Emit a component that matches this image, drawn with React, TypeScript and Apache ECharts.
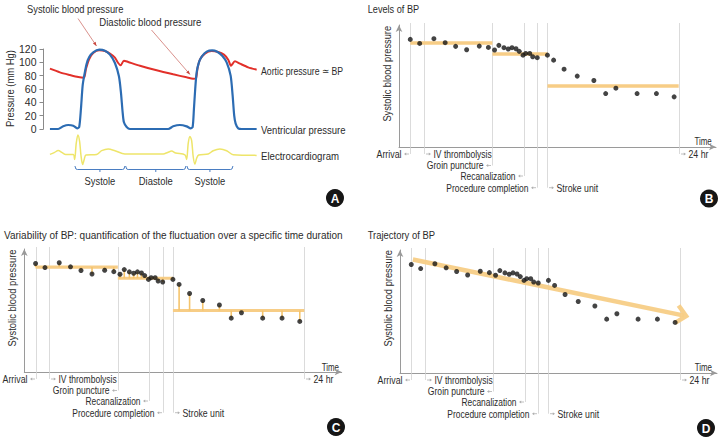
import React, { useEffect, useRef } from "react";
import * as echarts from "echarts";

const FONT = '"Liberation Sans", Arial, sans-serif';
const TXT = "#2b2b2b";

// ---------- Panel A: cardiac cycle (time in ms) ----------
const pressureTicks = [0, 20, 40, 60, 80, 100, 120];
const aorticT = [0, 70, 140, 198, 238, 252, 275, 303, 345, 385, 420, 455, 478, 495, 518, 548, 630, 747, 863, 957, 1003, 1022, 1033, 1050, 1085, 1132, 1178, 1218, 1248, 1267, 1295, 1330, 1388, 1447];
const aorticP = [90.5, 85, 81, 78, 77, 90, 105, 114, 118, 117, 113, 107, 99, 95.5, 102.5, 100.5, 95, 88, 82, 77.5, 75.5, 76, 91, 104, 113, 117, 115.5, 111.5, 104, 95, 101.5, 98, 92.5, 89];
const ventT = [0, 58, 93, 128, 163, 191, 205, 217, 229, 240, 257, 275, 303, 345, 385, 420, 455, 483, 497, 509, 518, 537, 560, 828, 863, 910, 957, 985, 999, 1008, 1017, 1027, 1043, 1064, 1097, 1136, 1171, 1206, 1237, 1265, 1279, 1290, 1300, 1318, 1342, 1447];
const ventP = [0, 0, 4, 6, 5, 1, 3, 30, 65, 80, 98, 108, 115, 119, 117.5, 111.5, 99, 79, 55, 25, 10, 3, 0, 0, 4, 6, 4, 1, 3, 30, 60, 85, 100, 109, 116, 118, 116, 110, 100, 80, 50, 20, 8, 1, 0, 0];
const ecgT = [0, 30, 58, 86, 110, 163, 173, 184, 196, 208, 217, 229, 240, 252, 327, 362, 408, 455, 525, 793, 824, 852, 880, 945, 957, 968, 980, 992, 1003, 1015, 1027, 1041, 1108, 1143, 1190, 1237, 1283, 1447];
const ecgV = [0, 0.09, 0.2, 0.09, 0, 0, -0.26, 0.57, 1.0, 0.66, -0.03, -0.52, -0.26, -0.03, 0, 0.19, 0.28, 0.19, 0.02, 0.02, 0.1, 0.17, 0.07, -0.02, -0.26, 0.57, 0.92, 0.71, -0.12, -0.5, -0.2, -0.03, 0.02, 0.19, 0.28, 0.19, -0.02, -0.05];
const phaseNames = ["Systole", "Diastole", "Systole"];
const phaseStart = [175, 530, 959];
const phaseEnd = [525, 952, 1281];
const seriesNamesA = ["Aortic pressure \u2243 BP", "Ventricular pressure", "Electrocardiogram"];
const pressureAxisName = "Pressure (mm Hg)";
const annotationNames = ["Systolic blood pressure", "Diastolic blood pressure"];

// ---------- Panels B-D: BP over 24 h (time: arrival = 0, 24 hr = 100) ----------
const bpTime = [0, 3.5, 8.8, 13.0, 16.9, 21.0, 25.7, 29.1, 31.4, 33.0, 34.9, 36.5, 37.9, 39.4, 40.6, 42.0, 43.0, 44.5, 45.6, 47.3, 51.1, 53.4, 57.3, 62.2, 68.4, 72.8, 76.6, 84.5, 91.7, 98.3];
const bpValue = [88.2, 84.9, 88.8, 85.5, 82.5, 79.7, 82.7, 81.6, 79.5, 83.3, 81.4, 80.3, 81.4, 80.5, 78.4, 75.3, 76.7, 76.7, 74.0, 73.2, 75.3, 71.2, 63.8, 58.1, 54.5, 43.8, 48.2, 43.8, 43.8, 41.1];
const eventNames = ["Arrival", "IV thrombolysis", "Groin puncture", "Recanalization", "Procedure completion", "Stroke unit", "24 hr"];
const eventTimes = [0, 5.0, 30.6, 42.2, 47.3, 51.1, 100];
const levelStart = [0, 30.6, 51.1];
const levelEnd = [30.6, 51.1, 100];
const levelValue = [85.3, 76.2, 50];
const trajectoryFrom = [0.6, 92.3];
const trajectoryTo = [102.4, 46.3];
const panelTitles = ["Levels of BP", "Variability of BP: quantification of the fluctuation over a specific time duration", "Trajectory of BP"];
const yAxisName = "Systolic blood pressure";
const xAxisName = "Time";

// ---------- layout (not data) ----------
const eventRows = [0, 0, 1, 2, 3, 3, 0];
const eventSides = [-1, 1, -1, -1, -1, 1, 1];
const eventLabelWidths = [25, 58.3, 56.7, 55, 82.3, 41.7, 20];
const rowOffsets = [7, 18.5, 29, 40.7];

const ORANGE = "#f7cd86";
const STEM = "#f5c46c";

const zip = (a: number[], b: number[]) => a.map((v, i) => [v, b[i]]);

let measureCtx: CanvasRenderingContext2D | null = null;
function textWidth(text: string, size: number) {
  if (!measureCtx) measureCtx = document.createElement("canvas").getContext("2d");
  if (!measureCtx) return text.length * size * 0.5;
  measureCtx.font = `${size}px ${FONT}`;
  return measureCtx.measureText(text).width;
}
const fit = (text: string, size: number, target: number) => target / textWidth(text, size);

function label(text: string, x: number, y: number, size: number, target: number, align = "left", rotation = 0) {
  return {
    type: "text",
    x,
    y,
    rotation,
    scaleX: fit(text, size, target),
    style: { text, fontSize: size, fontFamily: FONT, fill: TXT, align, verticalAlign: "middle" },
  };
}

function arrowHead(x1: number, y1: number, x2: number, y2: number, len: number, half: number) {
  const a = Math.atan2(y2 - y1, x2 - x1);
  const bx = x2 - len * Math.cos(a);
  const by = y2 - len * Math.sin(a);
  const nx = -Math.sin(a) * half;
  const ny = Math.cos(a) * half;
  return [[x2, y2], [bx + nx, by + ny], [bx - nx, by - ny]];
}

function eventsSeries(gi: number) {
  return {
    type: "custom",
    xAxisIndex: gi,
    yAxisIndex: gi,
    clip: false,
    silent: true,
    z: 1,
    data: eventTimes.map((t) => [t, 0]),
    encode: { x: 0, y: 1 },
    renderItem: (params: any, api: any) => {
      const i = params.dataIndex;
      const x = api.value(0);
      const top = api.coord([x, 100]);
      const bottom = api.coord([x, 0]);
      const px = Math.round(top[0]) + 0.5;
      const side = eventSides[i];
      const ly = bottom[1] + rowOffsets[eventRows[i]];
      const size = 10.5;
      return {
        type: "group",
        children: [
          { type: "line", shape: { x1: px, y1: top[1] - 2, x2: px, y2: ly }, style: { stroke: "#d2d2d2", lineWidth: 0.8 } },
          { type: "line", shape: { x1: px + side * 1.5, y1: ly, x2: px + side * 5.5, y2: ly }, style: { stroke: "#b0b0b0", lineWidth: 0.8 } },
          { type: "polygon", shape: { points: [[px + side * 6.5, ly], [px + side * 4.3, ly - 1.5], [px + side * 4.3, ly + 1.5]] }, style: { fill: "#b0b0b0" } },
          {
            type: "text",
            x: px + side * 9,
            y: ly,
            scaleX: fit(eventNames[i], size, eventLabelWidths[i]),
            style: {
              text: eventNames[i],
              align: side < 0 ? "right" : "left",
              verticalAlign: "middle",
              fontSize: size,
              fontFamily: FONT,
              fill: TXT,
            },
          },
        ],
      };
    },
  };
}

function levelsSeries(gi: number, width: number) {
  return {
    type: "custom",
    xAxisIndex: gi,
    yAxisIndex: gi,
    silent: true,
    z: 2,
    data: levelStart.map((s, i) => [s, levelEnd[i], levelValue[i]]),
    encode: { x: [0, 1], y: 2 },
    renderItem: (params: any, api: any) => {
      const a = api.coord([api.value(0), api.value(2)]);
      const b = api.coord([api.value(1), api.value(2)]);
      return { type: "line", shape: { x1: a[0], y1: a[1], x2: b[0], y2: b[1] }, style: { stroke: ORANGE, lineWidth: width } };
    },
  };
}

function stemsSeries(gi: number) {
  const data = bpTime.map((t, i) => {
    let k = levelStart.findIndex((s, j) => t >= s && t <= levelEnd[j]);
    if (k < 0) k = levelStart.length - 1;
    return [t, bpValue[i], levelValue[k]];
  });
  return {
    type: "custom",
    xAxisIndex: gi,
    yAxisIndex: gi,
    silent: true,
    z: 3,
    data,
    encode: { x: 0, y: [1, 2] },
    renderItem: (params: any, api: any) => {
      const a = api.coord([api.value(0), api.value(1)]);
      const b = api.coord([api.value(0), api.value(2)]);
      return { type: "line", shape: { x1: a[0], y1: a[1], x2: b[0], y2: b[1] }, style: { stroke: STEM, lineWidth: 1.6 } };
    },
  };
}

function trajectorySeries(gi: number) {
  return {
    type: "custom",
    xAxisIndex: gi,
    yAxisIndex: gi,
    clip: false,
    silent: true,
    z: 2,
    data: [[trajectoryFrom[0], trajectoryFrom[1], trajectoryTo[0], trajectoryTo[1]]],
    encode: { x: [0, 2], y: [1, 3] },
    renderItem: (params: any, api: any) => {
      const a = api.coord([api.value(0), api.value(1)]);
      const b = api.coord([api.value(2), api.value(3)]);
      const ang = Math.atan2(b[1] - a[1], b[0] - a[0]);
      const L = 13;
      const spread = 0.75;
      const p1 = [b[0] - L * Math.cos(ang - spread), b[1] - L * Math.sin(ang - spread)];
      const p2 = [b[0] - L * Math.cos(ang + spread), b[1] - L * Math.sin(ang + spread)];
      return {
        type: "group",
        children: [
          { type: "line", shape: { x1: a[0], y1: a[1], x2: b[0] - 2 * Math.cos(ang), y2: b[1] - 2 * Math.sin(ang) }, style: { stroke: ORANGE, lineWidth: 4.5, opacity: 0.95 } },
          { type: "polyline", shape: { points: [p1, b, p2] }, style: { stroke: ORANGE, lineWidth: 4.5, fill: null, lineJoin: "miter", opacity: 0.95 } },
        ],
      };
    },
  };
}

function dotsSeries(gi: number) {
  return {
    type: "scatter",
    xAxisIndex: gi,
    yAxisIndex: gi,
    silent: true,
    z: 5,
    symbolSize: 5,
    itemStyle: { color: "#151515" },
    data: zip(bpTime, bpValue),
  };
}

const axisArrowLine = { show: true, onZero: false, symbol: ["none", "arrow"], symbolSize: [5, 7], lineStyle: { color: "#9a9a9a", width: 1 } };

function bpXAxis(gi: number) {
  return {
    gridIndex: gi,
    type: "value",
    min: -4.2,
    max: 113.9,
    axisLine: axisArrowLine,
    axisTick: { show: false },
    axisLabel: { show: false },
    splitLine: { show: false },
  };
}

function bpYAxis(gi: number) {
  return {
    gridIndex: gi,
    type: "value",
    min: 0,
    max: 100,
    axisLine: axisArrowLine,
    axisTick: { show: false },
    axisLabel: { show: false },
    splitLine: { show: false },
  };
}

const hiddenX = (gi: number) => ({ gridIndex: gi, type: "value", min: -45, max: 1456.5, show: false });

function buildOption() {
  const graphic: any[] = [];
  // Panel A texts
  graphic.push(label(annotationNames[0], 27, 9, 11, 96.6));
  graphic.push(label(annotationNames[1], 99.3, 22.7, 11, 102.3));
  graphic.push(label(seriesNamesA[0], 261, 70.7, 11, 82.3));
  graphic.push(label(seriesNamesA[1], 261, 130, 11, 84.7));
  graphic.push(label(seriesNamesA[2], 261, 156, 11, 78));
  graphic.push(label(pressureAxisName, 10, 88.5, 11, 77, "center", Math.PI / 2));

  const annArrow = (x1: number, y1: number, x2: number, y2: number) => {
    graphic.push({ type: "line", shape: { x1, y1, x2, y2 }, style: { stroke: "#c8625a", lineWidth: 0.7 } });
    graphic.push({ type: "polygon", shape: { points: arrowHead(x1, y1, x2, y2, 4, 1.6) }, style: { fill: "#c8453c" } });
  };
  annArrow(78, 18.5, 96.5, 46);
  annArrow(151.5, 30, 190, 74.5);

  // Panel titles and axis names
  graphic.push(label(panelTitles[0], 367.7, 9.3, 11.5, 51.5));
  graphic.push(label(panelTitles[1], 4, 235, 11.5, 339));
  graphic.push(label(panelTitles[2], 367.7, 235, 11.5, 67.3));
  graphic.push(label(yAxisName, 387.7, 73.8, 11, 95.7, "center", Math.PI / 2));
  graphic.push(label(yAxisName, 12.7, 298, 11, 97, "center", Math.PI / 2));
  graphic.push(label(yAxisName, 388.3, 298.3, 11, 96.7, "center", Math.PI / 2));
  graphic.push(label(xAxisName, 711.7, 140.7, 11, 17.3, "right"));
  graphic.push(label(xAxisName, 339, 366.7, 11, 17.3, "right"));
  graphic.push(label(xAxisName, 712, 366.7, 11, 17.3, "right"));

  const letters: [string, number, number][] = [["A", 335, 198], ["B", 709, 198.5], ["C", 336, 427], ["D", 706, 428]];
  letters.forEach(([l, x, y]) => {
    graphic.push({ type: "circle", shape: { cx: x, cy: y, r: 9 }, style: { fill: "#161616" } });
    graphic.push({ type: "text", x, y: y + 0.5, style: { text: l, fontSize: 12, fontWeight: "bold", fontFamily: FONT, fill: "#fff", align: "center", verticalAlign: "middle" } });
  });

  return {
    animation: false,
    backgroundColor: "#ffffff",
    textStyle: { fontFamily: FONT },
    grid: [
      { left: 43.5, top: 49, width: 214.5, height: 80 },
      { left: 43.5, top: 131, width: 214.5, height: 39 },
      { left: 43.5, top: 160, width: 214.5, height: 30 },
      { left: 399, top: 25, width: 317, height: 122 },
      { left: 24.3, top: 249, width: 317.4, height: 123 },
      { left: 400, top: 250, width: 317, height: 123 },
    ],
    xAxis: [hiddenX(0), hiddenX(1), hiddenX(2), bpXAxis(3), bpXAxis(4), bpXAxis(5)],
    yAxis: [
      {
        gridIndex: 0,
        type: "value",
        min: pressureTicks[0],
        max: pressureTicks[pressureTicks.length - 1],
        interval: pressureTicks[1] - pressureTicks[0],
        axisLine: { show: true, onZero: false, lineStyle: { color: "#8a8a8a", width: 1 } },
        axisTick: { show: true, length: 4, lineStyle: { color: "#8a8a8a" } },
        axisLabel: { fontSize: 10.5, color: TXT, margin: 7, fontFamily: FONT },
        splitLine: { show: false },
      },
      { gridIndex: 1, type: "value", min: -0.8, max: 1.2, show: false },
      { gridIndex: 2, type: "value", min: 0, max: 1, show: false },
      bpYAxis(3),
      bpYAxis(4),
      bpYAxis(5),
    ],
    graphic,
    series: [
      {
        name: seriesNamesA[0],
        type: "line",
        xAxisIndex: 0,
        yAxisIndex: 0,
        data: zip(aorticT, aorticP),
        smooth: 0.25,
        showSymbol: false,
        clip: false,
        z: 3,
        lineStyle: { color: "#e2302a", width: 2 },
      },
      {
        name: seriesNamesA[1],
        type: "line",
        xAxisIndex: 0,
        yAxisIndex: 0,
        data: zip(ventT, ventP),
        smooth: 0.25,
        showSymbol: false,
        clip: false,
        z: 4,
        lineStyle: { color: "#2c6cb3", width: 2.2 },
      },
      {
        name: seriesNamesA[2],
        type: "line",
        xAxisIndex: 1,
        yAxisIndex: 1,
        data: zip(ecgT, ecgV),
        smooth: 0.3,
        showSymbol: false,
        clip: false,
        lineStyle: { color: "#eee56a", width: 1.5 },
      },
      {
        type: "custom",
        xAxisIndex: 2,
        yAxisIndex: 2,
        clip: false,
        silent: true,
        data: phaseStart.map((s, i) => [s, phaseEnd[i], 0.7]),
        encode: { x: [0, 1], y: 2 },
        renderItem: (params: any, api: any) => {
          const a = api.coord([api.value(0), api.value(2)]);
          const b = api.coord([api.value(1), api.value(2)]);
          const y = Math.round(a[1]) + 0.5;
          const xm = (a[0] + b[0]) / 2;
          const name = phaseNames[params.dataIndex];
          return {
            type: "group",
            children: [
              { type: "polyline", shape: { points: [[a[0], y - 3.5], [a[0] + 1, y - 0.5], [a[0] + 2.5, y], [b[0] - 2.5, y], [b[0] - 1, y - 0.5], [b[0], y - 3.5]] }, style: { stroke: "#4a7dc2", lineWidth: 1, fill: null } },
              { type: "line", shape: { x1: xm, y1: y, x2: xm, y2: y + 2.5 }, style: { stroke: "#4a7dc2", lineWidth: 1 } },
              {
                type: "text",
                x: xm,
                y: y + 12,
                scaleX: fit(name, 11, name === "Diastole" ? 34 : 30.7),
                style: { text: name, align: "center", verticalAlign: "middle", fontSize: 11, fontFamily: FONT, fill: TXT },
              },
            ],
          };
        },
      },
      // Panel B
      eventsSeries(3),
      levelsSeries(3, 3.5),
      dotsSeries(3),
      // Panel C
      eventsSeries(4),
      levelsSeries(4, 3.2),
      stemsSeries(4),
      dotsSeries(4),
      // Panel D
      eventsSeries(5),
      trajectorySeries(5),
      dotsSeries(5),
    ],
  };
}

export default function App() {
  const ref = useRef<HTMLDivElement>(null);
  useEffect(() => {
    if (!ref.current) return;
    const chart = echarts.init(ref.current, undefined, { renderer: "svg" });
    chart.setOption(buildOption() as any);
    return () => chart.dispose();
  }, []);
  return <div ref={ref} style={{ position: "fixed", left: 0, top: 0, width: 722, height: 441, background: "#fff" }} />;
}
